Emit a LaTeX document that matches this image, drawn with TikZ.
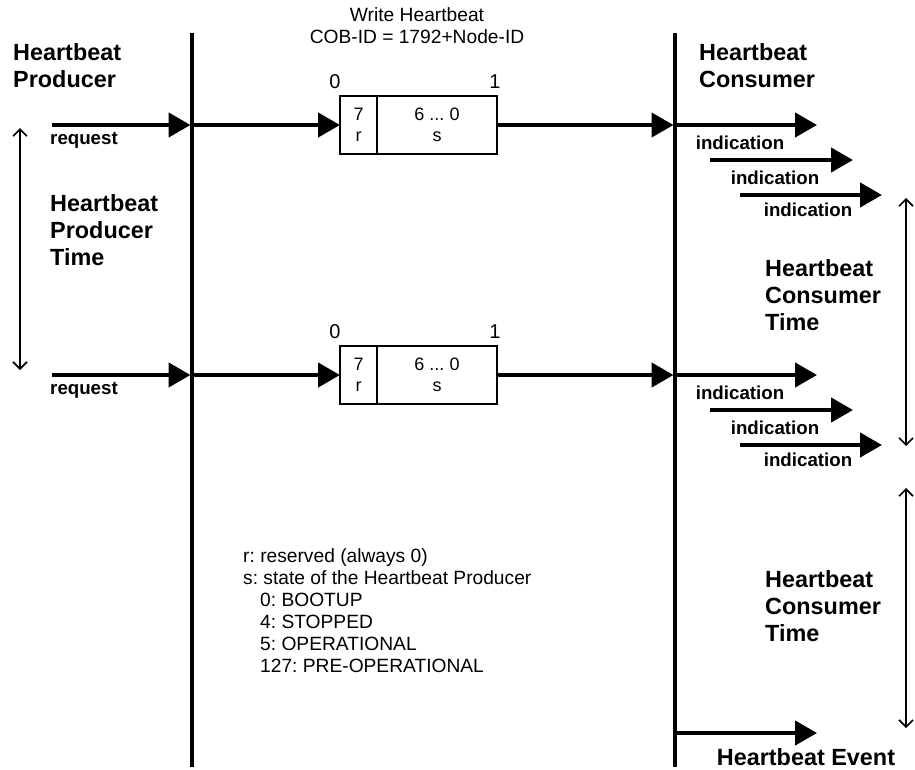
\documentclass[tikz,border=0pt]{standalone}
\usepackage{fontspec}
\setmainfont{Liberation Sans}
\usetikzlibrary{arrows.meta}
\frenchspacing
\begin{document}
\begin{tikzpicture}[x=1pt,y=-1pt,
  bigarrow/.style={line width=4.5pt, -{Triangle[length=22pt,width=24pt]}},
  lifeline/.style={line width=4.2pt},
  timearrow/.style={line width=1.6pt, {Straight Barb[length=7pt,width=14pt]}-{Straight Barb[length=7pt,width=14pt]}},
  title/.style={font=\fontsize{23.4}{27}\selectfont\bfseries, align=left, inner sep=0pt, anchor=west},
  msg/.style={font=\fontsize{18.7}{21}\selectfont\bfseries, inner sep=0pt},
  plain/.style={font=\fontsize{19.2}{22}\selectfont, inner sep=0pt},
  bitno/.style={font=\fontsize{20}{22}\selectfont, inner sep=0pt},
  cell/.style={draw, line width=1.5pt, minimum height=58pt, inner sep=0pt, outer sep=0pt, font=\fontsize{18}{21}\selectfont, align=center},
]
\useasboundingbox (0,0) rectangle (915,769);

% lifelines
\coordinate (ptop) at (192,33);
\coordinate (pbot) at (192,767);
\coordinate (ctop) at (675,33);
\coordinate (cbot) at (675,767);
\draw[lifeline] (ptop) -- (pbot);
\draw[lifeline] (ctop) -- (cbot);

% header
\node[plain, align=center] (hdr) at (417,26) {Write Heartbeat\\COB-ID = 1792+Node-ID};

% titles
\node[title] (prod) at (13,66) {Heartbeat\\Producer};
\node[title] (cons) at (699,66) {Heartbeat\\Consumer};
\node[title] (ptime) at (50,230) {Heartbeat\\Producer\\Time};
\node[title] (ctime1) at (765,295) {Heartbeat\\Consumer\\Time};
\node[title] (ctime2) at (765,606) {Heartbeat\\Consumer\\Time};

% rows
\foreach \i/\o in {1/0,2/250}{
  \begin{scope}[shift={(0,\o)}]
    \coordinate (req\i) at (52,125);
    \coordinate (pin\i) at (192,125);
    \coordinate (cin\i) at (675,125);
    \node[cell, minimum width=37pt] (r\i) at (358.5,125) {7\\r};
    \node[cell, minimum width=120pt, anchor=west] (s\i) at (r\i.east) {6 ... 0\\s};
    \node[bitno] (z\i) at (335,82) {0};
    \node[bitno] (o\i) at (495,82) {1};
    \draw[bigarrow, shorten >=1.5pt] (req\i) -- (pin\i);
    \draw[bigarrow] (pin\i) -- (r\i.west);
    \draw[bigarrow, shorten >=1.5pt] (s\i.east) -- (cin\i);
    \node[msg] (rq\i) at (84,140) {request};
    \coordinate (ia\i) at (817,125);
    \coordinate (ib\i) at (710,160);
    \coordinate (ibe\i) at (853,160);
    \coordinate (ic\i) at (740,195);
    \coordinate (ice\i) at (882,195);
    \draw[bigarrow] (cin\i) -- (ia\i);
    \draw[bigarrow] (ib\i) -- (ibe\i);
    \draw[bigarrow] (ic\i) -- (ice\i);
    \node[msg] (ind\i a) at (740,143) {indication};
    \node[msg] (ind\i b) at (775,178) {indication};
    \node[msg] (ind\i c) at (808,210) {indication};
  \end{scope}
}

% heartbeat event
\coordinate (ev) at (675,733);
\coordinate (eve) at (817,733);
\draw[bigarrow] (ev) -- (eve);
\node[title, anchor=center] (evl) at (806,757) {Heartbeat Event};

% time arrows
\coordinate (pt1) at (20,128);
\coordinate (pt2) at (20,370);
\draw[timearrow] (pt1) -- (pt2);
\coordinate (ct1) at (906,198);
\coordinate (ct2) at (906,446);
\draw[timearrow] (ct1) -- (ct2);
\coordinate (ct3) at (906,488);
\coordinate (ct4) at (906,728);
\draw[timearrow] (ct3) -- (ct4);

% legend
\node[plain, align=left, anchor=west] (legend) at (243,611) {r: reserved (always 0)\\
s: state of the Heartbeat Producer\\
\hspace*{17pt}0: BOOTUP\\
\hspace*{17pt}4: STOPPED\\
\hspace*{17pt}5: OPERATIONAL\\
\hspace*{17pt}127: PRE-OPERATIONAL};
\end{tikzpicture}
\end{document}
